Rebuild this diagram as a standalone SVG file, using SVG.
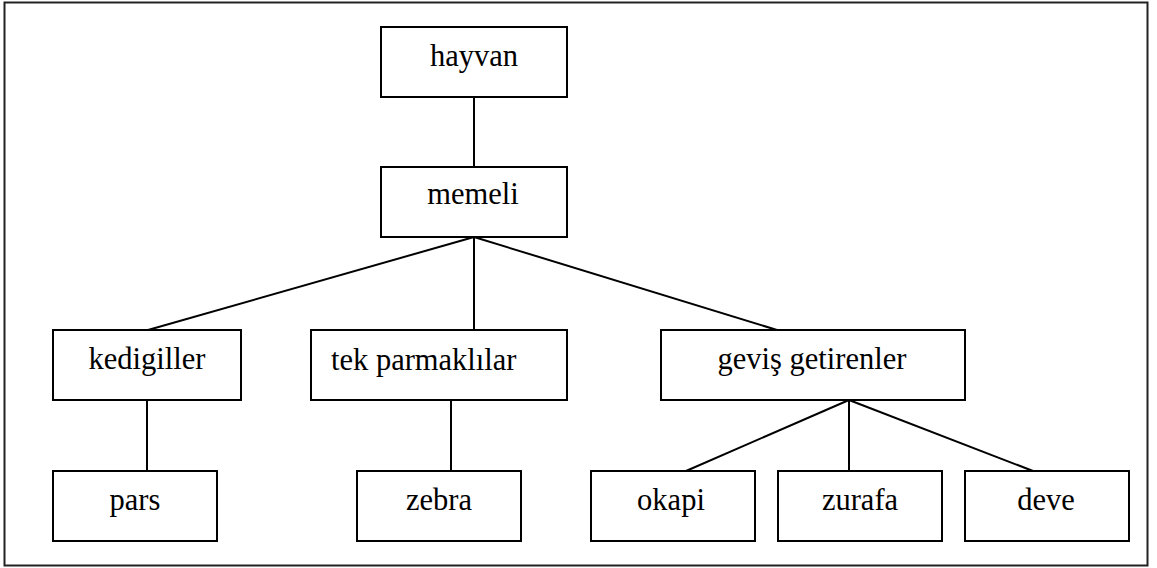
<svg xmlns="http://www.w3.org/2000/svg" width="1157" height="568" viewBox="0 0 1157 568">
<style>
.box{fill:#fff;stroke:#000;stroke-width:2}
.lbl{font-family:"Liberation Serif","Times New Roman",serif;font-size:30.5px;fill:#000}
.c{text-anchor:middle}
.edge{stroke:#000;stroke-width:2;fill:none}
</style>
<rect x="4.5" y="2.5" width="1143" height="563" fill="#fff" stroke="#222" stroke-width="2"/>
<g id="connectors">
<line class="edge" x1="474" y1="97" x2="474" y2="167"/>
<line class="edge" x1="474" y1="237" x2="148" y2="330"/>
<line class="edge" x1="474" y1="237" x2="474" y2="330"/>
<line class="edge" x1="474" y1="237" x2="777" y2="330"/>
<line class="edge" x1="147" y1="400" x2="147" y2="471"/>
<line class="edge" x1="451" y1="400" x2="451" y2="471"/>
<line class="edge" x1="849" y1="400" x2="686" y2="471"/>
<line class="edge" x1="849" y1="400" x2="849" y2="471"/>
<line class="edge" x1="849" y1="400" x2="1033" y2="471"/>
</g>
<g id="hayvan"><rect class="box" x="381" y="27" width="186" height="70"/><text class="lbl c" font-family="Liberation Serif, serif" x="474" y="66">hayvan</text></g>
<g id="memeli"><rect class="box" x="381" y="167" width="186" height="70"/><text class="lbl c" font-family="Liberation Serif, serif" x="473" y="204">memeli</text></g>
<g id="kedigiller"><rect class="box" x="53" y="330" width="188" height="70"/><text class="lbl c" font-family="Liberation Serif, serif" x="147" y="369">kedigiller</text></g>
<g id="tek-parmaklilar"><rect class="box" x="311" y="330" width="256" height="70"/><text class="lbl" font-family="Liberation Serif, serif" x="331" y="370">tek parmaklılar</text></g>
<g id="getirenler"><rect class="box" x="661" y="330" width="304" height="70"/><text class="lbl c" font-family="Liberation Serif, serif" x="812" y="369">geviş getirenler</text></g>
<g id="pars"><rect class="box" x="53" y="471" width="164" height="70"/><text class="lbl c" font-family="Liberation Serif, serif" x="135" y="510">pars</text></g>
<g id="zebra"><rect class="box" x="357" y="471" width="164" height="70"/><text class="lbl c" font-family="Liberation Serif, serif" x="439" y="510">zebra</text></g>
<g id="okapi"><rect class="box" x="591" y="471" width="164" height="70"/><text class="lbl c" font-family="Liberation Serif, serif" x="671" y="510">okapi</text></g>
<g id="zurafa"><rect class="box" x="778" y="471" width="164" height="70"/><text class="lbl c" font-family="Liberation Serif, serif" x="860" y="510">zurafa</text></g>
<g id="deve"><rect class="box" x="965" y="471" width="164" height="70"/><text class="lbl c" font-family="Liberation Serif, serif" x="1046" y="510">deve</text></g>
</svg>
